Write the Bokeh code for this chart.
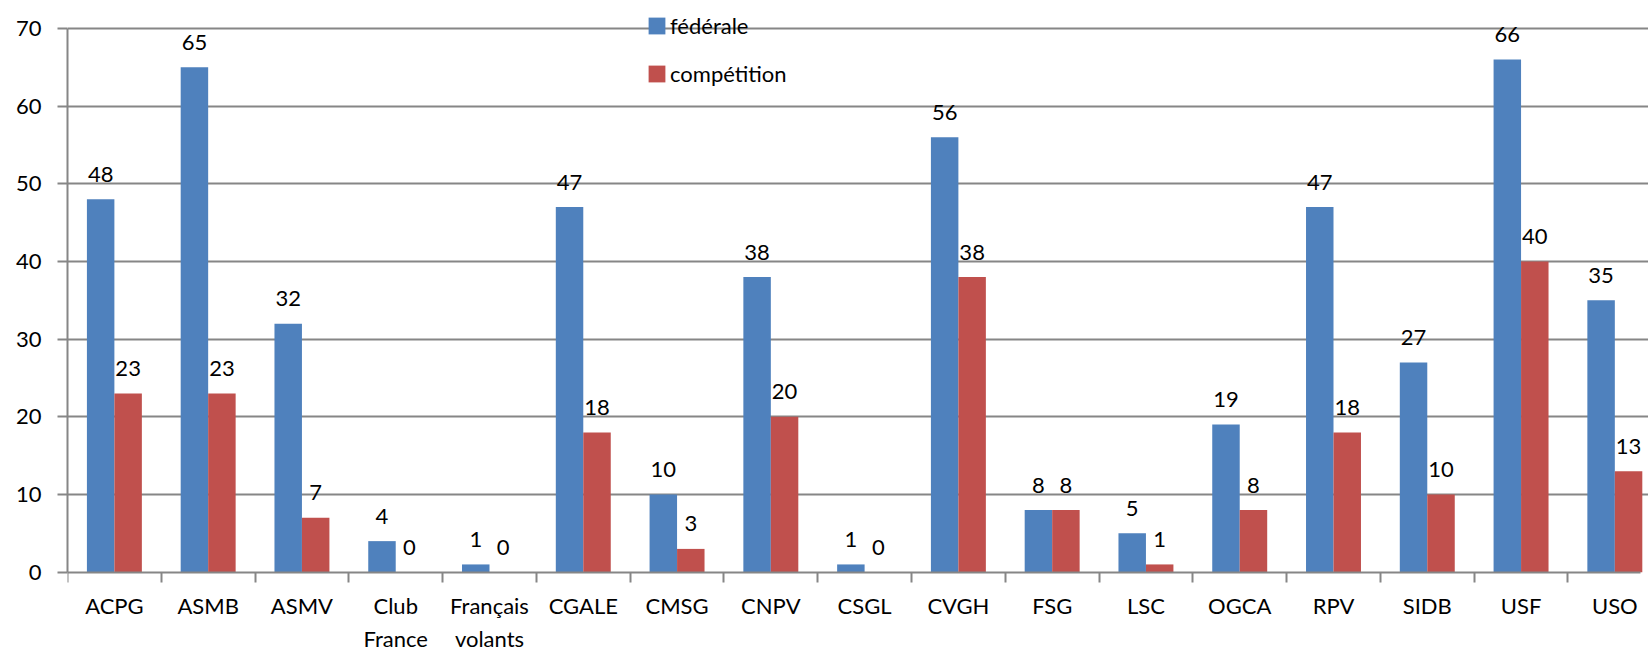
from bokeh.plotting import figure
from bokeh.models import Range1d, FixedTicker, Legend, LegendItem, ColumnDataSource
from bokeh.transform import dodge
from bokeh.core.properties import value
from bokeh.embed import file_html
from bokeh.resources import INLINE

categories = ["ACPG", "ASMB", "ASMV", "Club\nFrance", "Français\nvolants", "CGALE", "CMSG",
              "CNPV", "CSGL", "CVGH", "FSG", "LSC", "OGCA", "RPV", "SIDB", "USF", "USO"]
federale = [48, 65, 32, 4, 1, 47, 10, 38, 1, 56, 8, 5, 19, 47, 27, 66, 35]
competition = [23, 23, 7, 0, 0, 18, 3, 20, 0, 38, 8, 1, 8, 18, 10, 40, 13]
y_ticks = [0, 10, 20, 30, 40, 50, 60, 70]

FONT = "Lato"
GRID = "#868686"
BLUE = "#4F81BD"
RED = "#C0504D"

n = len(categories)
centers = [i + 0.5 for i in range(n)]
source = ColumnDataSource(dict(
    x=centers,
    fed=federale,
    comp=competition,
    fed_txt=[str(v) for v in federale],
    comp_txt=[str(v) for v in competition],
))

p = figure(width=1648, height=650, output_backend="svg", toolbar_location=None,
           x_range=Range1d(0, 16.859), y_range=Range1d(-10.08, 73.6),
           min_border_left=67, min_border_right=0, min_border_top=0, min_border_bottom=0)
p.outline_line_color = None
p.xgrid.visible = False
p.ygrid.ticker = FixedTicker(ticks=y_ticks[1:])
p.ygrid.grid_line_color = GRID
p.ygrid.grid_line_width = 2

BW = 0.293
OFF = 0.1465
r1 = p.vbar(x=dodge("x", -OFF, range=p.x_range), top="fed", width=BW, source=source,
            fill_color=BLUE, line_color=None)
r2 = p.vbar(x=dodge("x", OFF, range=p.x_range), top="comp", width=BW, source=source,
            fill_color=RED, line_color=None)

p.text(x=dodge("x", -OFF, range=p.x_range), y="fed", text="fed_txt", source=source,
       text_align="center", text_baseline="alphabetic", y_offset=-25,
       text_font=value(FONT), text_font_size="22px", text_color="#000000")
p.text(x=dodge("x", OFF, range=p.x_range), y="comp", text="comp_txt", source=source,
       text_align="center", text_baseline="alphabetic", y_offset=-25,
       text_font=value(FONT), text_font_size="22px", text_color="#000000")

# y axis
ya = p.yaxis[0]
ya.ticker = FixedTicker(ticks=y_ticks)
ya.bounds = (0, 70)
ya.axis_line_color = GRID
ya.axis_line_width = 2
ya.major_tick_line_color = GRID
ya.major_tick_line_width = 2
ya.major_tick_in = 0
ya.major_tick_out = 10
ya.minor_tick_line_color = None
ya.major_label_standoff = 16
ya.major_label_text_font = FONT
ya.major_label_text_font_size = "22px"
ya.major_label_text_color = "#000000"

# x axis (fixed at y = 0, inside the frame)
xa = p.xaxis[0]
xa.fixed_location = 0
xa.bounds = (0, 16.777)
xa.ticker = FixedTicker(ticks=centers, minor_ticks=list(range(n + 1)))
xa.major_label_overrides = {c: name for c, name in zip(centers, categories)}
xa.axis_line_color = GRID
xa.axis_line_width = 2
xa.major_tick_line_color = None
xa.major_tick_in = 0
xa.major_tick_out = 10
xa.minor_tick_line_color = GRID
xa.minor_tick_line_width = 2
xa.minor_tick_in = 0
xa.minor_tick_out = 10
xa.major_label_standoff = 10
xa.major_label_text_font = FONT
xa.major_label_text_font_size = "22px"
xa.major_label_text_color = "#000000"

legend = Legend(items=[LegendItem(label="fédérale", renderers=[r1]),
                       LegendItem(label="compétition", renderers=[r2])],
                location=(579, 563), orientation="vertical", padding=0, margin=0,
                spacing=21, glyph_width=21, glyph_height=21, label_standoff=3,
                label_text_font=FONT, label_text_font_size="22px",
                label_text_color="#000000",
                border_line_color=None, background_fill_alpha=0)
p.add_layout(legend)

open("out.html", "w").write(file_html(p, INLINE))
